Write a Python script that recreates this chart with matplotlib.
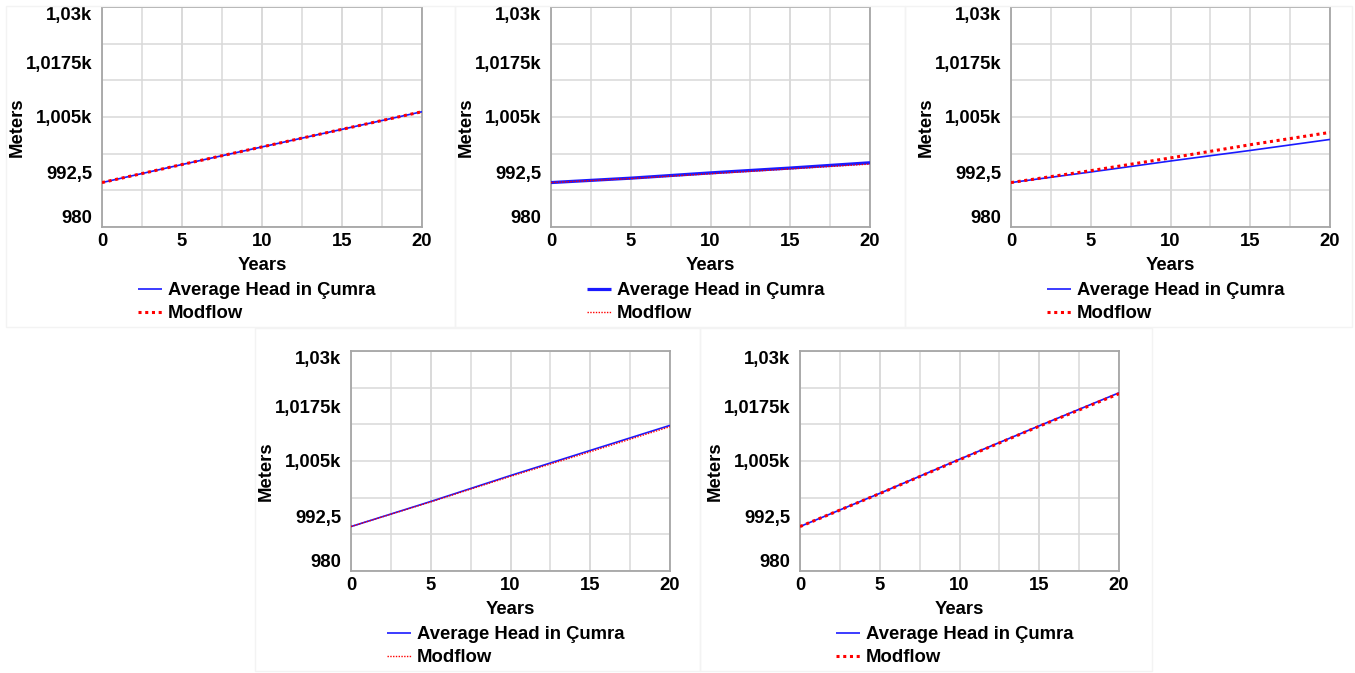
import matplotlib
matplotlib.use("Agg")
import matplotlib.pyplot as plt
from matplotlib.patches import Rectangle
from matplotlib.ticker import FixedLocator, MultipleLocator
import numpy as np

plt.rcParams['font.family'] = ['Liberation Sans', 'DejaVu Sans']
plt.rcParams['font.weight'] = 'bold'

# ---- data -------------------------------------------------------------
years = [0, 5, 10, 15, 20]

head_1 = [990.1, 994.2, 998.2, 1002.2, 1006.2]
modflow_1 = [990.1, 994.2, 998.2, 1002.2, 1006.2]

head_2 = [990.1, 991.1, 992.3, 993.4, 994.6]
modflow_2 = [990.1, 991.0, 992.1, 993.2, 994.3]

head_3 = [990.1, 992.5, 995.0, 997.4, 999.9]
modflow_3 = [990.1, 992.8, 995.7, 998.7, 1001.5]

head_4 = [990.1, 995.8, 1001.7, 1007.4, 1013.1]
modflow_4 = [990.1, 995.7, 1001.5, 1007.1, 1012.8]

head_5 = [990.1, 997.65, 1005.4, 1013.0, 1020.5]
modflow_5 = [990.1, 997.6, 1005.3, 1012.9, 1020.3]

y_ticks = [980, 992.5, 1005, 1017.5, 1030]
y_tick_labels = ["980", "992,5", "1,005k", "1,0175k", "1,03k"]
x_ticks = [0, 5, 10, 15, 20]
x_tick_labels = ["0", "5", "10", "15", "20"]

head_label = "Average Head in Çumra"
modflow_label = "Modflow"
x_title = "Years"
y_title = "Meters"

# ---- layout ----------------------------------------------------------
W, H = 1355, 673
fig = plt.figure(figsize=(W / 100, H / 100), dpi=100)
fig.patch.set_facecolor("white")


def px_rect(left, top, right, bottom):
    return [left / W, 1 - bottom / H, (right - left) / W, (bottom - top) / H]


# faint frames around each panel
for (l, t, r, b) in [(6, 6, 455, 327), (455, 6, 905, 327), (905, 6, 1352, 327),
                     (255, 328, 700, 671), (700, 328, 1152, 671)]:
    fig.patches.append(Rectangle((l / W, 1 - b / H), (r - l) / W, (b - t) / H,
                                 transform=fig.transFigure, fill=False,
                                 edgecolor="#f3f3f3", linewidth=1.0))

panels = [
    dict(rect=(102, 7, 422, 227), head=head_1, mod=modflow_1, hlw=1.2, mlw=2.2, thin=False),
    dict(rect=(551, 7, 870, 227), head=head_2, mod=modflow_2, hlw=2.3, mlw=1.0, thin=True),
    dict(rect=(1011, 7, 1330, 227), head=head_3, mod=modflow_3, hlw=1.2, mlw=2.2, thin=False),
    dict(rect=(351, 351, 670, 571), head=head_4, mod=modflow_4, hlw=1.2, mlw=1.0, thin=True),
    dict(rect=(800, 351, 1119, 571), head=head_5, mod=modflow_5, hlw=1.2, mlw=2.2, thin=False),
]

FS = 13.3
blue = "#1a1aff"
red = "#ff0000"
spine_c = "#a6a6a6"
grid_c = "#d9d9d9"

for p in panels:
    ax = fig.add_axes(px_rect(*p["rect"]))
    ax.plot(years, p["head"], color=blue, lw=p["hlw"], label=head_label,
            solid_capstyle="butt", zorder=3)
    dash = (0, (1, 1.2)) if not p["thin"] else (0, (1, 1))
    ax.plot(years, p["mod"], color=red, lw=p["mlw"], linestyle=dash,
            label=modflow_label, dash_capstyle="butt", zorder=4)

    ax.set_xlim(0, 20)
    ax.set_ylim(980, 1030)

    ax.set_xticks(x_ticks, x_tick_labels)
    ax.xaxis.set_minor_locator(MultipleLocator(2.5))
    ax.set_yticks(y_ticks, y_tick_labels)
    ax.yaxis.set_minor_locator(FixedLocator(list(np.linspace(980, 1030, 7))))
    ax.xaxis.remove_overlapping_locs = False
    ax.yaxis.remove_overlapping_locs = False

    ax.xaxis.grid(True, which="both", color=grid_c, lw=1.1)
    ax.yaxis.grid(True, which="minor", color=grid_c, lw=1.1)
    ax.yaxis.grid(False, which="major")
    ax.set_axisbelow(True)

    ax.tick_params(which="both", length=0)
    ax.tick_params(axis="x", pad=4.5, labelsize=FS)
    ax.tick_params(axis="y", pad=7, labelsize=FS)
    for lab in ax.get_xticklabels() + ax.get_yticklabels():
        lab.set_fontweight("bold")
    ylabs = ax.get_yticklabels()
    ylabs[0].set_va("bottom")
    ylabs[-1].set_va("top")

    for s in ax.spines.values():
        s.set_color(spine_c)
        s.set_linewidth(1.3)

    ax.set_xlabel(x_title, fontsize=FS, fontweight="bold", labelpad=4.5)
    ax.text(-0.266, 0.455, y_title, transform=ax.transAxes, rotation=90,
            ha="center", va="center", fontsize=FS, fontweight="bold")

    ax.legend(loc="upper left", bbox_to_anchor=(0.113, -0.252), frameon=False,
              handlelength=1.3, handletextpad=0.3,
              labelspacing=0.3, borderpad=0, borderaxespad=0,
              prop={"weight": "bold", "size": FS})

fig.savefig("out.png", dpi=100, facecolor="white")
